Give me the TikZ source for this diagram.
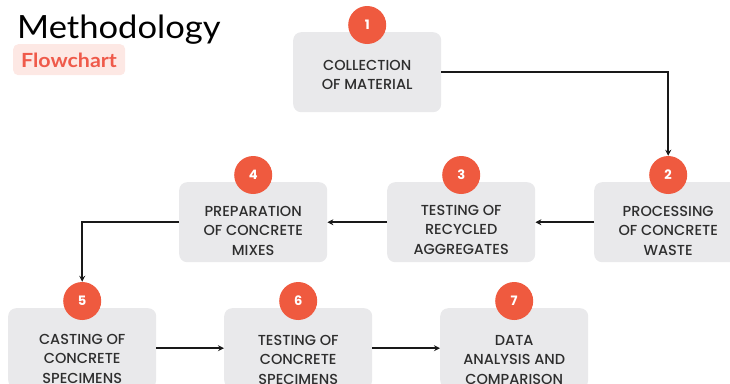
\documentclass[tikz,border=0pt]{standalone}
\usepackage{fontspec}
\setmainfont{Poppins}[UprightFont=* Medium, BoldFont=* Bold]
\newfontfamily\titlefont{Lato}
\usetikzlibrary{arrows.meta}
\definecolor{stepred}{HTML}{EF5A3F}
\definecolor{boxgray}{HTML}{E9E9EB}
\definecolor{tagpink}{HTML}{FDE8E4}
\definecolor{tagtext}{HTML}{EF5A4A}
\definecolor{labeltext}{HTML}{2E2E2E}
\begin{document}
\begin{tikzpicture}[x=1pt,y=-1pt,
  stepbox/.style={fill=boxgray, rounded corners=8pt, minimum width=148pt,
    minimum height=80pt, inner sep=0pt, anchor=north west},
  stepnum/.style={circle, fill=stepred, minimum size=38pt, inner sep=0pt,
    text=white, font=\bfseries\fontsize{13}{13}\selectfont},
  steptext/.style={anchor=north, inner sep=0pt, align=center, text=labeltext,
    font=\fontsize{14.5}{19.5}\selectfont},
  flow/.style={line width=1.6pt, draw=black!90,
    -{Stealth[length=6pt,width=6pt]}}]
\useasboundingbox (0,0) rectangle (730,383);
\clip (0,0) rectangle (730,383);

% heading
\node[anchor=base west, inner sep=0pt, font=\titlefont\fontsize{32}{32}\selectfont]
  (title) at (17,38) {\scalebox{1.08}[1]{Methodology}};
\node[anchor=north west, fill=tagpink, rounded corners=5pt, minimum width=112pt,
  minimum height=31pt, inner sep=0pt] (tag) at (13,44) {};
\node[anchor=base, inner sep=0pt, text=tagtext,
  font=\titlefont\bfseries\fontsize{19.5}{19.5}\selectfont]
  (tagtxt) at (69,67) {\scalebox{1.1}[1]{Flowchart}};

% step boxes
\node[stepbox] (box1) at (293,32) {};
\node[stepbox] (box2) at (594,182) {};
\node[stepbox] (box3) at (387,182) {};
\node[stepbox] (box4) at (179,182) {};
\node[stepbox] (box5) at (8,308) {};
\node[stepbox] (box6) at (224,308) {};
\node[stepbox] (box7) at (440,308) {};

% box labels
\node[steptext] (t1) at ([yshift=-28pt]box1.north) {COLLECTION\\OF MATERIAL};
\node[steptext] (t2) at ([yshift=-24pt]box2.north) {PROCESSING\\OF CONCRETE\\WASTE};
\node[steptext] (t3) at ([yshift=-23pt]box3.north) {TESTING OF\\RECYCLED\\AGGREGATES};
\node[steptext] (t4) at ([yshift=-24pt]box4.north) {PREPARATION\\OF CONCRETE\\MIXES};
\node[steptext] (t5) at ([yshift=-26pt]box5.north) {CASTING OF\\CONCRETE\\SPECIMENS};
\node[steptext] (t6) at ([yshift=-27pt]box6.north) {TESTING OF\\CONCRETE\\SPECIMENS};
\node[steptext] (t7) at ([yshift=-27pt]box7.north) {DATA\\ANALYSIS AND\\COMPARISON};

% numbered badges
\foreach \i in {1,...,7}{
  \node[stepnum] (num\i) at ([yshift=7pt]box\i.north) {\i};
}

% connectors
\draw[flow] (box1.east) -| (num2.north);
\draw[flow] (box2.west) -- (box3.east);
\draw[flow] (box3.west) -- (box4.east);
\draw[flow] (box4.west) -| (num5.north);
\draw[flow] (box5.east) -- (box6.west);
\draw[flow] (box6.east) -- (box7.west);
\end{tikzpicture}
\end{document}
